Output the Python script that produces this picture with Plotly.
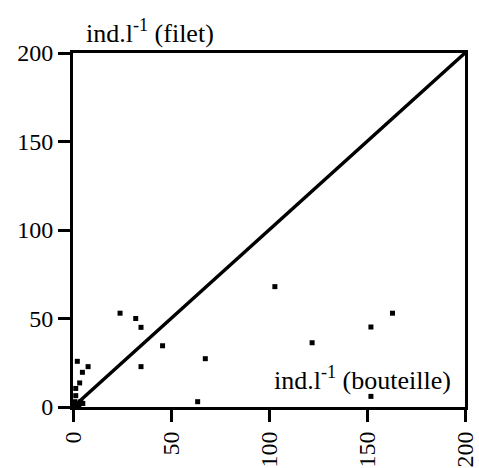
import plotly.graph_objects as go

# Data: bottle (x) vs net (y), ind.l-1
bouteille = [24, 32, 34.7, 45.7, 34.7, 2.2, 7.7, 4.8, 3.4, 1.4, 1.4,
             1, 2, 3, 4, 5, 1, 0.5,
             103, 163, 152, 122, 67.5, 63.6, 152]
filet = [53, 50, 45, 34.6, 22.8, 25.8, 22.8, 19.6, 13.6, 10.5, 6.4,
         1, 2, 1, 3, 2, 3, 0.5,
         68, 53, 45.2, 36.3, 27.3, 3, 6]
diag_x = [0, 200]
diag_y = [0, 200]
tick_vals = [0, 50, 100, 150, 200]

FONT = "Liberation Serif"

fig = go.Figure()
fig.add_trace(go.Scatter(x=diag_x, y=diag_y, mode="lines",
                         line=dict(color="black", width=3.5), showlegend=False))
fig.add_trace(go.Scatter(x=bouteille, y=filet, mode="markers",
                         marker=dict(symbol="square", size=5, color="black"),
                         showlegend=False, cliponaxis=False))

axis_common = dict(range=[0, 200], tickvals=tick_vals, ticks="outside",
                   ticklen=12, tickwidth=3, tickcolor="black",
                   showline=True, linewidth=3, linecolor="black", mirror=True,
                   showgrid=False, zeroline=False, automargin=False,
                   tickfont=dict(family=FONT, size=24, color="black"))

fig.update_xaxes(**axis_common, tickangle=-90)
fig.update_yaxes(**axis_common)

fig.add_annotation(text="ind.l<sup>-1</sup> (filet)", xref="paper", yref="paper",
                   x=0.028, y=1, xanchor="left", yanchor="bottom", yshift=3,
                   showarrow=False, font=dict(family=FONT, size=26, color="black"))
fig.add_annotation(text="ind.l<sup>-1</sup> (bouteille)", xref="x", yref="y",
                   x=194, y=16, xanchor="right", yanchor="middle",
                   showarrow=False, font=dict(family=FONT, size=26, color="black"))

fig.update_layout(width=479, height=468, plot_bgcolor="white", paper_bgcolor="white",
                  margin=dict(l=73, r=14, t=53, b=61, autoexpand=False),
                  showlegend=False)

fig.write_html("out.html")
